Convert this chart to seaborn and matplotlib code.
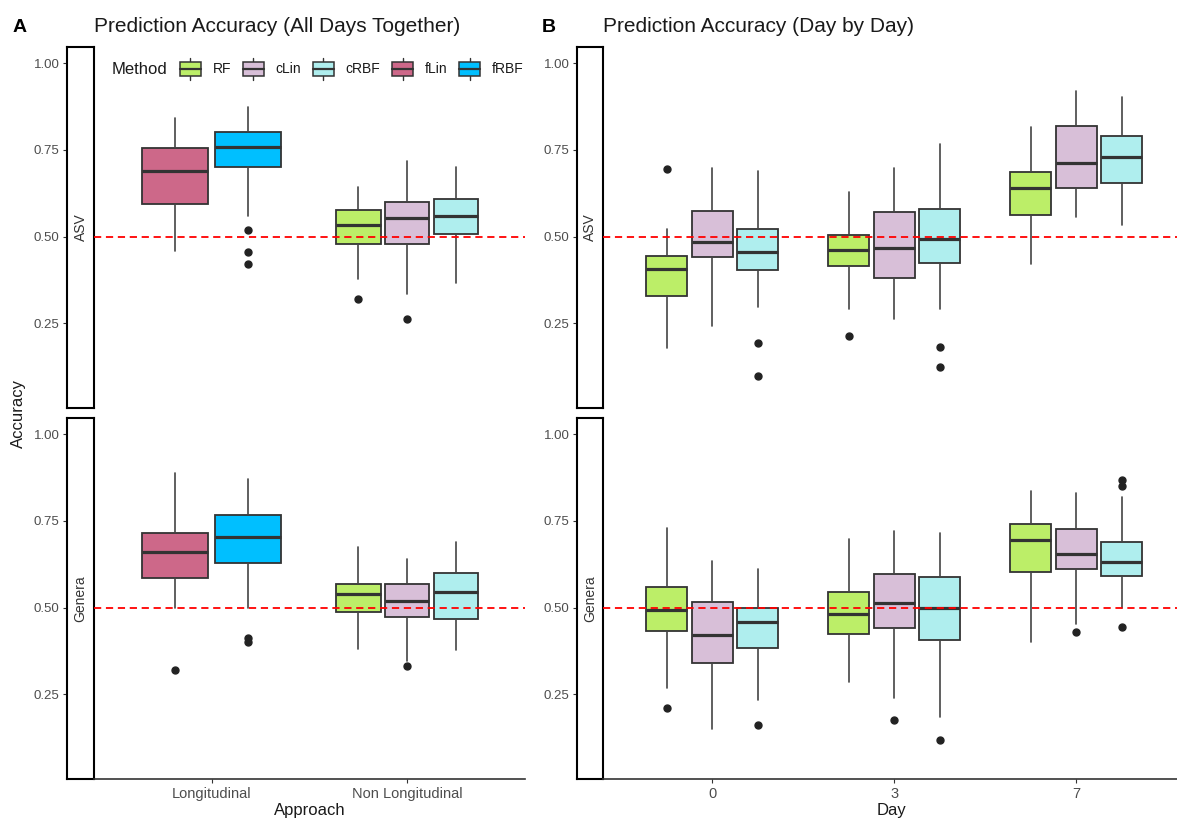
import matplotlib
matplotlib.use("Agg")
import matplotlib.pyplot as plt
from matplotlib.patches import Rectangle, Patch
from matplotlib.lines import Line2D
from matplotlib.legend_handler import HandlerBase
import seaborn as sns

# ---------------------------------------------------------------- data
methods = ["RF", "cLin", "cRBF", "fLin", "fRBF"]
method_colors = ["#BCEE68", "#D8BFD8", "#AFEEEE", "#CD6889", "#00BFFF"]

approaches = ["Longitudinal", "Non Longitudinal"]
days = ["0", "3", "7"]
facets = ["ASV", "Genera"]
chance = 0.5
y_ticks = [0.25, 0.50, 0.75, 1.00]

# Panel A: all days pooled (box order within each facet)
a_method = ["fLin", "fRBF", "RF", "cLin", "cRBF"]
a_group = [0, 0, 1, 1, 1]

a_asv_low = [0.459, 0.560, 0.377, 0.335, 0.367]
a_asv_q1 = [0.593, 0.700, 0.480, 0.480, 0.509]
a_asv_med = [0.689, 0.759, 0.534, 0.553, 0.560]
a_asv_q3 = [0.755, 0.801, 0.576, 0.601, 0.609]
a_asv_high = [0.843, 0.875, 0.644, 0.718, 0.702]
a_asv_out = [[], [0.519, 0.456, 0.420], [0.321], [0.262], []]

a_gen_low = [0.500, 0.500, 0.380, 0.345, 0.378]
a_gen_q1 = [0.585, 0.630, 0.487, 0.474, 0.466]
a_gen_med = [0.661, 0.704, 0.539, 0.520, 0.546]
a_gen_q3 = [0.716, 0.767, 0.569, 0.567, 0.601]
a_gen_high = [0.887, 0.872, 0.676, 0.641, 0.688]
a_gen_out = [[0.321], [0.413, 0.400], [], [0.333], []]

# Panel B: per day
b_method = ["RF", "cLin", "cRBF"] * 3
b_group = [0, 0, 0, 1, 1, 1, 2, 2, 2]

b_asv_low = [0.178, 0.243, 0.298, 0.292, 0.262, 0.292, 0.421, 0.558, 0.534]
b_asv_q1 = [0.328, 0.440, 0.405, 0.416, 0.380, 0.425, 0.562, 0.640, 0.654]
b_asv_med = [0.408, 0.484, 0.456, 0.463, 0.466, 0.494, 0.640, 0.713, 0.730]
b_asv_q3 = [0.445, 0.574, 0.523, 0.504, 0.571, 0.579, 0.686, 0.819, 0.789]
b_asv_high = [0.521, 0.697, 0.689, 0.629, 0.699, 0.768, 0.817, 0.919, 0.902]
b_asv_out = [[0.694], [], [0.194, 0.098], [0.215], [], [0.183, 0.125], [], [], []]

b_gen_low = [0.269, 0.151, 0.233, 0.285, 0.241, 0.185, 0.400, 0.454, 0.500]
b_gen_q1 = [0.432, 0.341, 0.383, 0.423, 0.442, 0.406, 0.602, 0.611, 0.592]
b_gen_med = [0.493, 0.421, 0.458, 0.483, 0.514, 0.499, 0.696, 0.655, 0.633]
b_gen_q3 = [0.560, 0.517, 0.498, 0.545, 0.598, 0.589, 0.742, 0.727, 0.689]
b_gen_high = [0.731, 0.634, 0.613, 0.698, 0.722, 0.715, 0.836, 0.831, 0.820]
b_gen_out = [[0.211], [], [0.161], [], [0.177], [0.119], [], [0.431],
             [0.867, 0.851, 0.443]]

# ---------------------------------------------------------------- style
sns.set_theme(style="white")
plt.rcParams["font.family"] = ["Liberation Sans", "DejaVu Sans"]

W, H = 1177, 818
EDGE = "#333333"
TXT = "#1A1A1A"
TICKTXT = "#4D4D4D"
YLIM = (0.006, 1.047)

fig = plt.figure(figsize=(W / 100, H / 100), dpi=100)
fig.patch.set_facecolor("white")


def px_rect(x0, y0, x1, y1):
    return [x0 / W, 1 - y1 / H, (x1 - x0) / W, (y1 - y0) / H]


def fx(x):
    return x / W


def fy(y):
    return 1 - y / H


color_of = dict(zip(methods, method_colors))


def draw_boxes(ax, meth, group, low, q1, med, q3, high, out):
    n_in = {}
    for g in group:
        n_in[g] = n_in.get(g, 0) + 1
    seen = {}
    for i, m in enumerate(meth):
        g = group[i]
        k = seen.get(g, 0)
        seen[g] = k + 1
        slot = 0.75 / n_in[g]
        pos = g + 1 - 0.375 + slot * (k + 0.5)
        st = [dict(med=med[i], q1=q1[i], q3=q3[i], whislo=low[i],
                   whishi=high[i], fliers=out[i])]
        ax.bxp(st, positions=[pos], widths=[slot * 0.9], patch_artist=True,
               showcaps=False, manage_ticks=False,
               boxprops=dict(facecolor=color_of[m], edgecolor=EDGE, linewidth=1.3),
               medianprops=dict(color=EDGE, linewidth=2.3, solid_capstyle="butt"),
               whiskerprops=dict(color="#444444", linewidth=1.2),
               flierprops=dict(marker="o", markerfacecolor="#222222",
                               markeredgecolor="#222222", markersize=5.0))


def make_facet(x_strip, x0, x1, y0, y1, label, bottom, xlim, cats):
    # strip on the left, carrying the y axis
    s = fig.add_axes(px_rect(x_strip, y0, x0, y1))
    s.set_ylim(*YLIM)
    s.set_xticks([])
    s.set_yticks(y_ticks)
    s.set_yticklabels([f"{v:.2f}" for v in y_ticks])
    s.tick_params(axis="y", length=3, width=0.8, color=EDGE, pad=2.5,
                  labelsize=9.5, labelcolor=TICKTXT, left=True)
    for sp in s.spines.values():
        sp.set_visible(True)
        sp.set_color("black")
        sp.set_linewidth(1.5)
    s.set_facecolor("white")
    s.text(0.5, 0.5, label, rotation=90, ha="center", va="center",
           transform=s.transAxes, fontsize=10, color="#333333")

    ax = fig.add_axes(px_rect(x0, y0, x1, y1))
    ax.set_facecolor("none")
    ax.set_ylim(*YLIM)
    ax.set_xlim(*xlim)
    ax.set_yticks([])
    for side in ["left", "top", "right"]:
        ax.spines[side].set_visible(False)
    if bottom:
        ax.spines["bottom"].set_visible(True)
        ax.spines["bottom"].set_color(EDGE)
        ax.spines["bottom"].set_linewidth(1.2)
        ax.set_xticks(range(1, len(cats) + 1))
        ax.set_xticklabels(cats)
        ax.tick_params(axis="x", length=3, width=0.8, color=EDGE, pad=3,
                       labelsize=10.5, labelcolor=TICKTXT, bottom=True)
    else:
        ax.spines["bottom"].set_visible(False)
        ax.set_xticks([])
    ax.grid(False)
    return ax


rows = [(47, 408), (418, 779)]

# ---------------------------------------------------------------- panel A
a_sets = [
    (a_asv_low, a_asv_q1, a_asv_med, a_asv_q3, a_asv_high, a_asv_out),
    (a_gen_low, a_gen_q1, a_gen_med, a_gen_q3, a_gen_high, a_gen_out),
]
for r, ((y0, y1), lab, dat) in enumerate(zip(rows, facets, a_sets)):
    ax = make_facet(67, 94, 525, y0, y1, lab, r == 1, (0.4, 2.6), approaches)
    draw_boxes(ax, a_method, a_group, *dat)
    ax.axhline(chance, color="red", linestyle=(0, (4, 2.6)), linewidth=1.3,
               zorder=10)

# ---------------------------------------------------------------- panel B
b_sets = [
    (b_asv_low, b_asv_q1, b_asv_med, b_asv_q3, b_asv_high, b_asv_out),
    (b_gen_low, b_gen_q1, b_gen_med, b_gen_q3, b_gen_high, b_gen_out),
]
for r, ((y0, y1), lab, dat) in enumerate(zip(rows, facets, b_sets)):
    ax = make_facet(577, 603, 1177, y0, y1, lab, r == 1, (0.4, 3.553), days)
    draw_boxes(ax, b_method, b_group, *dat)
    ax.axhline(chance, color="red", linestyle=(0, (4, 2.6)), linewidth=1.3,
               zorder=10)

# ---------------------------------------------------------------- titles
fig.text(fx(13), fy(27), "A", fontsize=14, fontweight="bold", color="black",
         ha="left", va="center")
fig.text(fx(94), fy(27), "Prediction Accuracy (All Days Together)",
         fontsize=15, color=TXT, ha="left", va="center")
fig.text(fx(542), fy(27), "B", fontsize=14, fontweight="bold", color="black",
         ha="left", va="center")
fig.text(fx(603), fy(27), "Prediction Accuracy (Day by Day)",
         fontsize=15, color=TXT, ha="left", va="center")

fig.text(fx(18), fy(413), "Accuracy", rotation=90, fontsize=12, color=TXT,
         ha="center", va="center")
fig.text(fx(309.5), fy(810), "Approach", fontsize=12, color=TXT,
         ha="center", va="center")
fig.text(fx(892), fy(810), "Day", fontsize=12, color=TXT,
         ha="center", va="center")


# ---------------------------------------------------------------- legend
class BoxKey(HandlerBase):
    def create_artists(self, legend, orig_handle, xdescent, ydescent,
                       width, height, fontsize, trans):
        x0 = -xdescent
        yb = -ydescent
        cx = x0 + width / 2
        cy = yb + height / 2
        bh = height * 0.61
        rect = Rectangle((x0, cy - bh / 2), width, bh,
                         facecolor=orig_handle.get_facecolor(),
                         edgecolor=EDGE, linewidth=1.1, transform=trans)
        med = Line2D([x0, x0 + width], [cy, cy], color=EDGE, linewidth=1.6,
                     transform=trans)
        w_up = Line2D([cx, cx], [cy + bh / 2, yb + height], color=EDGE,
                      linewidth=1.0, transform=trans)
        w_dn = Line2D([cx, cx], [yb, cy - bh / 2], color=EDGE,
                      linewidth=1.0, transform=trans)
        return [w_up, w_dn, rect, med]


handles = [Patch(facecolor=c, edgecolor=EDGE, label=m)
           for m, c in zip(methods, method_colors)]
fig.text(fx(112), fy(69), "Method", fontsize=12, color=TXT,
         ha="left", va="center")
fig.legend(handles=handles, labels=methods, ncol=5, loc="center left",
           bbox_to_anchor=(fx(180), fy(69)), bbox_transform=fig.transFigure,
           frameon=False, fontsize=10, borderpad=0, borderaxespad=0,
           handlelength=1.5, handleheight=2.16, handletextpad=0.85,
           columnspacing=0.85, labelcolor=TXT,
           handler_map={Patch: BoxKey()})

fig.savefig("out.png", dpi=100)
